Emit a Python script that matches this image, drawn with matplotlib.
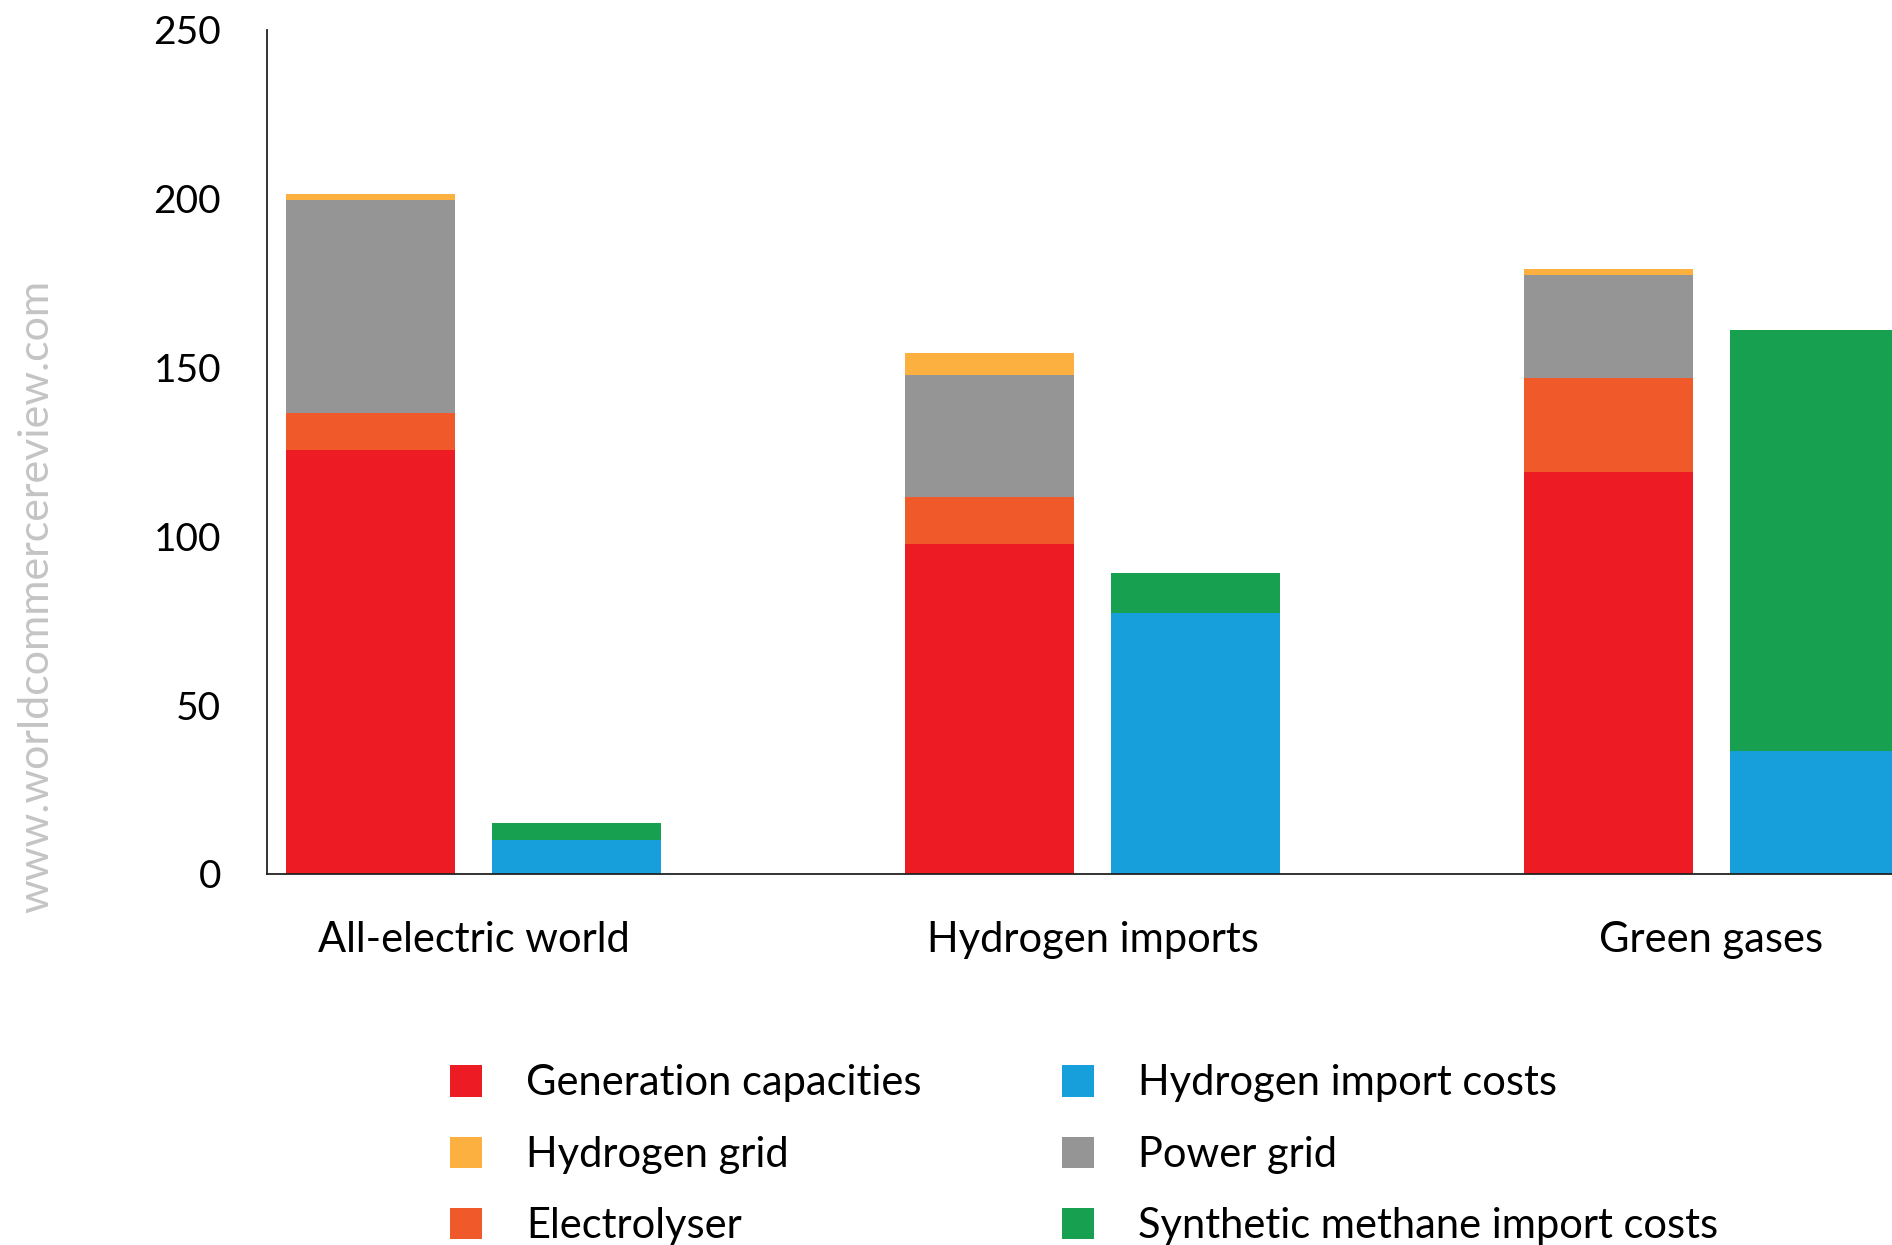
import matplotlib
matplotlib.use("Agg")
import matplotlib.pyplot as plt
from matplotlib.patches import Patch
import numpy as np

# Scenarios and cost components (bn EUR)
scenarios = ["All-electric world", "Hydrogen imports", "Green gases"]

generation = [125.5, 97.8, 119.0]
electrolyser = [11.0, 14.0, 28.0]
power_grid = [63.0, 36.0, 30.5]
hydrogen_grid = [2.0, 6.5, 1.8]

hydrogen_imports = [10.2, 77.4, 36.5]
methane_imports = [5.0, 11.8, 124.6]

colors = {
    "Generation capacities": "#ED1C24",
    "Hydrogen grid": "#FBB040",
    "Electrolyser": "#F05A2B",
    "Hydrogen import costs": "#169FDB",
    "Power grid": "#949594",
    "Synthetic methane import costs": "#17A050",
}

plt.rcParams["font.family"] = ["Lato", "DejaVu Sans"]

fig = plt.figure(figsize=(18.92, 12.45), dpi=100)
ax = fig.add_axes([0.141, 0.298, 0.859, 0.678])

x = np.arange(len(scenarios))
w = 0.273
off = 0.1664

# left bar: domestic infrastructure
bottom = np.zeros(len(x))
for vals, name in [(generation, "Generation capacities"),
                   (electrolyser, "Electrolyser"),
                   (power_grid, "Power grid"),
                   (hydrogen_grid, "Hydrogen grid")]:
    ax.bar(x - off, vals, w, bottom=bottom, color=colors[name], linewidth=0)
    bottom += np.array(vals)

# right bar: imports
bottom = np.zeros(len(x))
for vals, name in [(hydrogen_imports, "Hydrogen import costs"),
                   (methane_imports, "Synthetic methane import costs")]:
    ax.bar(x + off, vals, w, bottom=bottom, color=colors[name], linewidth=0)
    bottom += np.array(vals)

ax.set_xlim(-0.334, 2.2916)
ax.set_ylim(0, 250)
ax.set_yticks([0, 50, 100, 150, 200, 250])
ax.set_xticks(x)
ax.set_xticklabels(scenarios)
ax.tick_params(axis="x", length=0, labelsize=30, pad=34)
ax.tick_params(axis="y", length=0, labelsize=28, pad=33)
for s in ["top", "right"]:
    ax.spines[s].set_visible(False)
for s in ["left", "bottom"]:
    ax.spines[s].set_linewidth(1.3)
    ax.spines[s].set_color("#222222")

# legend in two columns
col1 = ["Generation capacities", "Hydrogen grid", "Electrolyser"]
col2 = ["Hydrogen import costs", "Power grid", "Synthetic methane import costs"]
for names, xpos in [(col1, 0.2378), (col2, 0.5613)]:
    handles = [Patch(facecolor=colors[n], edgecolor="none") for n in names]
    fig.legend(handles, names, loc="upper left", bbox_to_anchor=(xpos, 0.145),
               frameon=False, fontsize=30, handlelength=0.78, handleheight=0.78,
               handletextpad=1.05, labelspacing=0.8, borderpad=0, borderaxespad=0)

fig.text(0.019, 0.521, "www.worldcommercereview.com", rotation=90,
         ha="center", va="center", fontsize=31, color="#C4C4C4")

fig.savefig("out.png", dpi=100)
